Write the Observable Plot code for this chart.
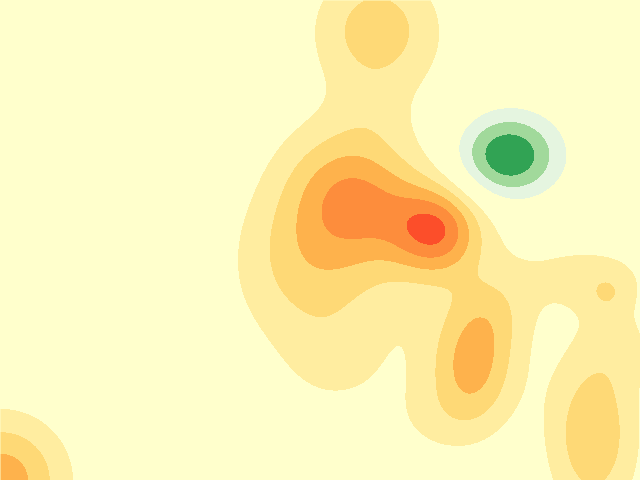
<!DOCTYPE html>
<html>
<head>
<meta charset="utf-8">
<script src="https://cdn.jsdelivr.net/npm/d3@7"></script>
<script src="https://cdn.jsdelivr.net/npm/@observablehq/plot@0.6"></script>
<style>
  body { margin: 0; background: #ffffcc; }
</style>
</head>
<body>
<div id="chart"></div>
<script>
// bumps of the field (image coordinates)
const bumpX   = [376, 338, 380, 436, 330, 290, 472, 490, 330, 592, 606, 590, 625,   0,  507, 385, 285, 370, 440]
const bumpY   = [ 28, 190, 210, 230, 265, 290, 366, 312, 360, 434, 292, 275, 345, 480,  155, 250, 240, 115, 420]
const bumpAmp = [2.5, 2.5, 1.5, 3.9, 0.6, 0.8, 2.9, 1.2, 0.8, 2.8, 0.95, 1.1, 0.8, 3.6, -4.2, 1.0, 0.6, 0.45, 0.8]
const bumpSX  = [ 44,  43,  40,  30,  40,  45,  30,  28,  40,  32,  14,  55,  28,  45,   36, 100,  40,  28,  40]
const bumpSY  = [ 44,  45,  40,  30,  40,  45,  40,  30,  40,  60,  14,  28,  30,  45,   30, 100,  40,  28,  30]

// contour levels and colours
const levels = [-3, -2, -1, 1, 2, 3, 4, 5]
const colors = ["#31a354", "#a1d99b", "#e5f5e0", "#ffffcc", "#ffeda0", "#fed976", "#feb24c", "#fd8d3c", "#fc4e2a"]

const field = (x, y) => d3.sum(bumpX, (bx, i) => {
  const dx = (x - bx) / bumpSX[i], dy = (y - bumpY[i]) / bumpSY[i]
  return bumpAmp[i] * Math.exp(-(dx * dx + dy * dy) / 2)
})

let chart = Plot.plot({
  width: 640,
  height: 480,
  margin: 0,
  x: {domain: [0, 640], axis: null},
  y: {domain: [480, 0], axis: null},
  color: {type: "threshold", domain: levels, range: colors},
  marks: [
    Plot.raster({fill: field, x1: 0, x2: 640, y1: 0, y2: 480, pixelSize: 1, imageRendering: "pixelated"})
  ]
})

d3.select('#chart').append(() => chart)
</script>
</body>
</html>
